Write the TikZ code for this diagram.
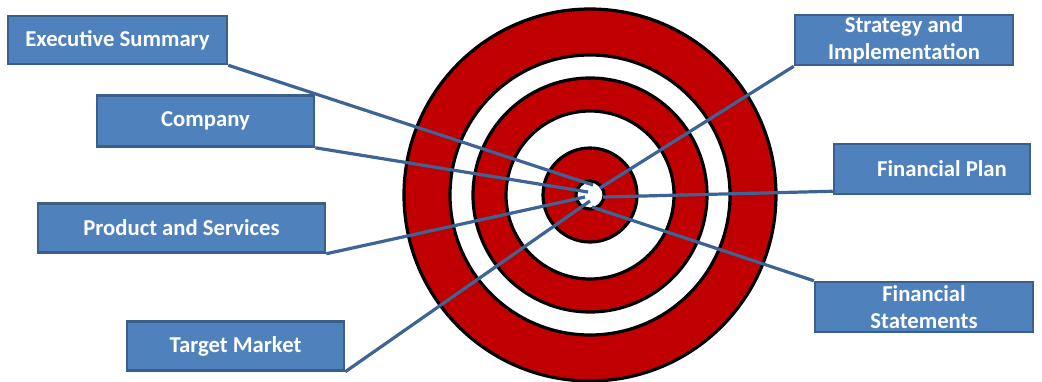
\documentclass[tikz,border=0pt]{standalone}
\usepackage{fontspec}
\setmainfont{Carlito}
\definecolor{diana}{HTML}{C00000}
\definecolor{caja}{HTML}{4F81BD}
\definecolor{borde}{HTML}{3A5F8B}
\definecolor{linea}{HTML}{3D6494}

\begin{document}
\begin{tikzpicture}[x=1pt, y=-1pt,
  box/.style={draw=borde, fill=caja, line width=2.5pt, text=white,
    font=\fontsize{22.7}{27}\selectfont\bfseries, align=center, inner sep=1pt},
  link/.style={draw=linea, line width=3.2pt},
  ring/.style={draw=black, line width=3.2pt}]
  \useasboundingbox (0,0) rectangle (1042,381);
  \coordinate (C) at (590,195);   % centro de la diana
  % anillos
  \foreach \r/\c in {186/diana, 140/white, 117/diana, 84/white, 47/diana, 14/white}
    \draw[ring, fill=\c] (C) circle (\r);
  % cajas
  \node[box, minimum width=219pt, minimum height=48pt] (exec) at (117.5,40) {Executive Summary};
  \node[box, minimum width=217pt, minimum height=51pt] (comp) at (205.5,121) {Company};
  \node[box, minimum width=287pt, minimum height=49pt] (prod) at (181.5,228) {Product and Services};
  \node[box, minimum width=217pt, minimum height=49pt] (targ) at (235.5,346) {Target Market};
  \node[box, minimum width=218pt, minimum height=50pt] (strat) at (904,40) {\raisebox{-3pt}{Strategy and}\\\raisebox{-3pt}{Implementation}};
  \node[box, minimum width=196pt, minimum height=50pt] (plan) at (932,169) {\hspace*{20pt}Financial Plan};
  \node[box, minimum width=218pt, minimum height=50pt] (stmt) at (924,307) {Financial\\Statements};
  % puntos sobre el centro
  \coordinate (e1) at (593,185);
  \coordinate (e2) at (588,192);
  \coordinate (e3) at (585,197);
  \coordinate (e4) at (590,201);
  \coordinate (e5) at (600,188);
  \coordinate (e6) at (603,197);
  \coordinate (e7) at (592,207);
  \draw[link] (exec.south east) -- (e1);
  \draw[link] (comp.south east) -- (e2);
  \draw[link] (prod.south east) -- (e3);
  \draw[link] (targ.south east) -- (e4);
  \draw[link] (strat.south west) -- (e5);
  \draw[link] ([yshift=4pt]plan.south west) -- (e6);
  \draw[link] (stmt.north west) -- (e7);
\end{tikzpicture}
\end{document}
